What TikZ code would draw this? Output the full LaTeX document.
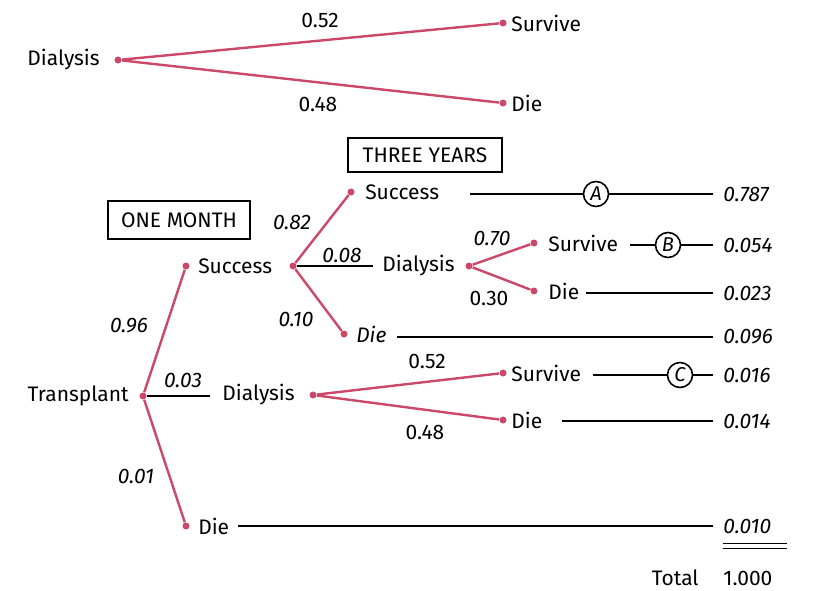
\documentclass[tikz,border=0pt]{standalone}
\usepackage{fontspec}
\setmainfont{Fira Sans}
\usepackage{xcolor}
\usepackage{tikz}
\usetikzlibrary{positioning}
\definecolor{branchred}{RGB}{204,72,104}

\begin{document}
\begin{tikzpicture}[
      x=0.5pt, y=-0.5pt,
      font=\fontsize{10.5}{12}\selectfont,
      dot/.style={circle,fill=branchred,inner sep=0pt,minimum size=3.5pt},
      lbl/.style={inner sep=1pt},
      prob/.style={inner sep=1pt,font=\fontsize{10.5}{12}\selectfont\itshape},
      outcome/.style={anchor=west,inner xsep=5pt,inner ysep=1pt,font=\fontsize{10.5}{12}\selectfont\itshape},
      stage/.style={draw,line width=1pt,inner sep=0pt,minimum width=77pt,minimum height=17pt},
      marker/.style={draw,circle,line width=0.8pt,inner sep=0pt,minimum size=12.5pt,font=\fontsize{10}{11}\selectfont\itshape},
      branch/.style={branchred,line width=1.2pt},
      endline/.style={line width=1.3pt}
      ]

      \useasboundingbox (0,0) rectangle (814,590);

      % dialysis only
      \node[dot] (d0) at (118,60) {};
      \node[lbl, left=6pt of d0] (dialysis0) {Dialysis};
      \node[dot] (d0s) at (503,23) {};
      \node[lbl, right=1pt of d0s] (survive0) {Survive};
      \node[dot] (d0d) at (503,103) {};
      \node[lbl, right=1pt of d0d] (die0) {Die};
      \node[lbl] (p052a) at (320,20) {0.52};
      \node[lbl] (p048a) at (318,104) {0.48};

      \node[stage] (three) at (425,155) {THREE YEARS};
      \node[stage, minimum width=71pt, minimum height=19pt] (one) at (179,220) {ONE MONTH};

      % transplant
      \node[dot] (tp) at (143,396) {};
      \node[lbl, left=4pt of tp] (transplant) {Transplant};

      \node[dot] (s1) at (186,266) {};
      \node[lbl, right=3pt of s1] (success1) {Success};
      \node[dot] (s2) at (293,266) {};
      \node[dot] (die1) at (186,526) {};
      \node[lbl, right=3pt of die1] (dietext1) {Die};
      \node[dot] (dl2) at (313,395) {};
      \node[lbl, left=6pt of dl2] (dialysis2) {Dialysis};

      \node[dot] (s3) at (351,192) {};
      \node[lbl, right=4pt of s3] (success3) {Success};
      \node[dot] (dl3) at (469,266) {};
      \node[lbl, left=4pt of dl3] (dialysis3) {Dialysis};
      \node[dot] (die3) at (344,334) {};
      \node[lbl, right=3pt of die3] (dietext3) {\itshape Die};

      \node[dot] (sv3) at (534,243) {};
      \node[lbl, right=4pt of sv3] (survive3) {Survive};
      \node[dot] (di3) at (534,291) {};
      \node[lbl, right=4pt of di3] (dietext4) {Die};

      \node[dot] (sv2) at (503,373) {};
      \node[lbl, right=1pt of sv2] (survive2) {Survive};
      \node[dot] (di2) at (503,420) {};
      \node[lbl, right=1pt of di2] (dietext2) {Die};

      % probabilities
      \node[prob] at (129,326) {0.96};
      \node[prob] at (183,380) {0.03};
      \node[prob] at (136,476) {0.01};
      \node[prob] at (292,222) {0.82};
      \node[prob] at (342,255) {0.08};
      \node[prob] at (296,319) {0.10};
      \node[prob] at (492,238) {0.70};
      \node[lbl] at (489,298) {0.30};
      \node[lbl] at (427,361) {0.52};
      \node[lbl] at (425,432) {0.48};

      % outcomes
      \node[outcome] (vA) at (713,194) {0.787};
      \node[outcome] (vB) at (713,245) {0.054};
      \node[outcome] (vD3) at (713,293) {0.023};
      \node[outcome] (vD2) at (713,337) {0.096};
      \node[outcome] (vC) at (713,375) {0.016};
      \node[outcome] (vD1) at (713,421) {0.014};
      \node[outcome] (vD0) at (713,526) {0.010};
      \node[outcome, font=\fontsize{10.5}{12}\selectfont] (sum) at (713,578) {1.000};
      \node[lbl, left=6pt of sum] (total) {Total};

      \node[marker] (mA) at (596,194) {A};
      \node[marker] (mB) at (668,245) {B};
      \node[marker] (mC) at (680,375) {C};

      \coordinate (lA) at (470,194);
      \coordinate (lB) at (630,245);
      \coordinate (lD3) at (586,293);
      \coordinate (lD2) at (397,337);
      \coordinate (lC) at (593,375);
      \coordinate (lD1) at (562,421);
      \coordinate (lD0) at (238,526);
      \coordinate (lT) at (210,396);
      \coordinate (lS) at (373,266);
      \coordinate (r1) at (723,546);
      \coordinate (r2) at (787,546);

      \path[branch] (d0) edge (d0s)
      (d0) edge (d0d)
      (tp) edge (s1)
      (tp) edge (die1)
      (s2) edge (s3)
      (s2) edge (die3)
      (dl3) edge (sv3)
      (dl3) edge (di3)
      (dl2) edge (sv2)
      (dl2) edge (di2)
      ;

      \path[endline] (tp) edge (lT)
      (s2) edge (lS)
      (lA) edge (mA)
      (mA) edge (vA.west)
      (lB) edge (mB)
      (mB) edge (vB.west)
      (lD3) edge (vD3.west)
      (lD2) edge (vD2.west)
      (lC) edge (mC)
      (mC) edge (vC.west)
      (lD1) edge (vD1.west)
      (lD0) edge (vD0.west)
      ;
      \draw[line width=0.7pt, double, double distance=1.6pt] (r1) -- (r2);
    \end{tikzpicture}
\end{document}
